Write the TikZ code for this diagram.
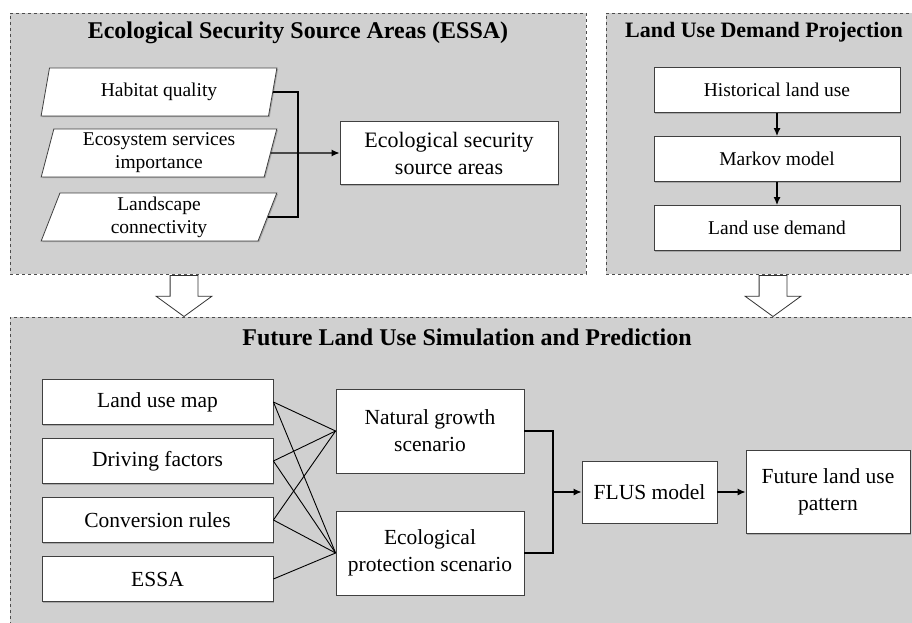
\documentclass[tikz,border=0pt]{standalone}
\usepackage{fontspec}
\setmainfont{Liberation Serif}
\usetikzlibrary{shapes.geometric, shapes.arrows, arrows.meta, positioning, shadows}
\definecolor{panelgray}{RGB}{208,208,208}

\begin{document}
\begin{tikzpicture}[
        x=1pt, y=-1pt,
        panel/.style={draw=black!70, dashed, fill=panelgray, line width=0.8pt},
        title/.style={font=\fontsize{24}{28}\selectfont\bfseries},
        block/.style={draw=black!75, fill=white, align=center, inner sep=2pt, line width=0.8pt,
            font=\fontsize{21.5}{27}\selectfont,
            drop shadow={shadow xshift=1.2pt, shadow yshift=-1.2pt, opacity=0.5}},
        slanted/.style={block, trapezium, trapezium left angle=78, trapezium right angle=102,
            trapezium stretches=true, minimum width=236pt, minimum height=48pt,
            font=\fontsize{19.5}{23}\selectfont},
        arrow/.style={-{Latex[length=8pt,width=7pt]}, line width=1.3pt},
        link/.style={line width=1.3pt},
        hollow/.style={draw=black!80, fill=white, single arrow, shape border rotate=270,
            minimum height=41pt, minimum width=55pt, single arrow head extend=14pt,
            single arrow tip angle=108, inner xsep=13.5pt, inner ysep=0pt, line width=0.8pt}
    ]
        \useasboundingbox (0,0) rectangle (912,623);

        % Panels
        \node[panel, minimum width=576pt, minimum height=261pt] (essapanel) at (298,143.5) {};
        \node[panel, minimum width=309pt, minimum height=261pt] (ludpanel) at (760.5,143.5) {};
        \node[panel, minimum width=905pt, minimum height=309pt] (fluspanel) at (462.5,471.5) {};

        \node[title] (essatitle) at (298,33) {Ecological Security Source Areas (ESSA)};
        \node[title, font=\fontsize{22}{26}\selectfont\bfseries] (ludtitle) at (764,32) {Land Use Demand Projection};
        \node[title] (flustitle) at (467,337) {Future Land Use Simulation and Prediction};

        % ESSA inputs
        \node[slanted] (hab) at (159,92) {Habitat quality};
        \node[slanted] (eco) at (159,153) {Ecosystem services\\importance};
        \node[slanted] (land) at (159,217) {Landscape\\connectivity};
        \node[block, minimum width=218pt, minimum height=63pt, font=\fontsize{22}{27}\selectfont] (essa) at (449,153) {Ecological security\\source areas};

        % Demand projection
        \node[block, minimum width=246pt, minimum height=45pt, font=\fontsize{19.5}{23}\selectfont] (hist) at (777,90) {Historical land use};
        \node[block, minimum width=246pt, minimum height=45pt, font=\fontsize{19.5}{23}\selectfont] (markov) at (777,159) {Markov model};
        \node[block, minimum width=246pt, minimum height=45pt, font=\fontsize{19.5}{23}\selectfont] (demand) at (777,228) {Land use demand};

        % Hollow arrows between panels
        \node[hollow, anchor=tip] (down1) at (184,317) {};
        \node[hollow, anchor=tip] (down2) at (773,317) {};

        % Simulation inputs
        \node[block, minimum width=231pt, minimum height=45pt] (lum) at (157.5,402) {Land use map};
        \node[block, minimum width=231pt, minimum height=45pt] (drv) at (157.5,461) {Driving factors};
        \node[block, minimum width=231pt, minimum height=45pt] (conv) at (157.5,520) {Conversion rules};
        \node[block, minimum width=231pt, minimum height=45pt] (essain) at (157.5,579) {ESSA};

        % Scenarios
        \node[block, minimum width=188pt, minimum height=84pt] (ng) at (430,431) {Natural growth\\scenario};
        \node[block, minimum width=188pt, minimum height=84pt] (ep) at (430,553) {Ecological\\protection scenario};

        % Model and output
        \node[block, minimum width=135pt, minimum height=62pt] (flus) at (649.5,492) {FLUS model};
        \node[block, minimum width=164pt, minimum height=83pt] (future) at (828,492) {Future land use\\pattern};

        % Connectors
        \coordinate (ejoin) at (298,153);
        \draw[link] (hab.east) -| (ejoin) |- (land.east);
        \draw[arrow] (eco.east) -- (essa.west);

        \draw[arrow] (hist) -- (markov);
        \draw[arrow] (markov) -- (demand);

        \foreach \src in {lum, drv, conv} {
            \draw[line width=0.9pt] (\src.east) -- (ng.west);
            \draw[line width=0.9pt] (\src.east) -- (ep.west);
        }
        \draw[line width=0.9pt] (essain.east) -- (ep.west);

        \coordinate (fjoin) at (553,492);
        \draw[link] (ng.east) -| (fjoin) |- (ep.east);
        \draw[arrow] (fjoin) -- (flus.west);
        \draw[arrow] (flus) -- (future);
    \end{tikzpicture}
\end{document}
